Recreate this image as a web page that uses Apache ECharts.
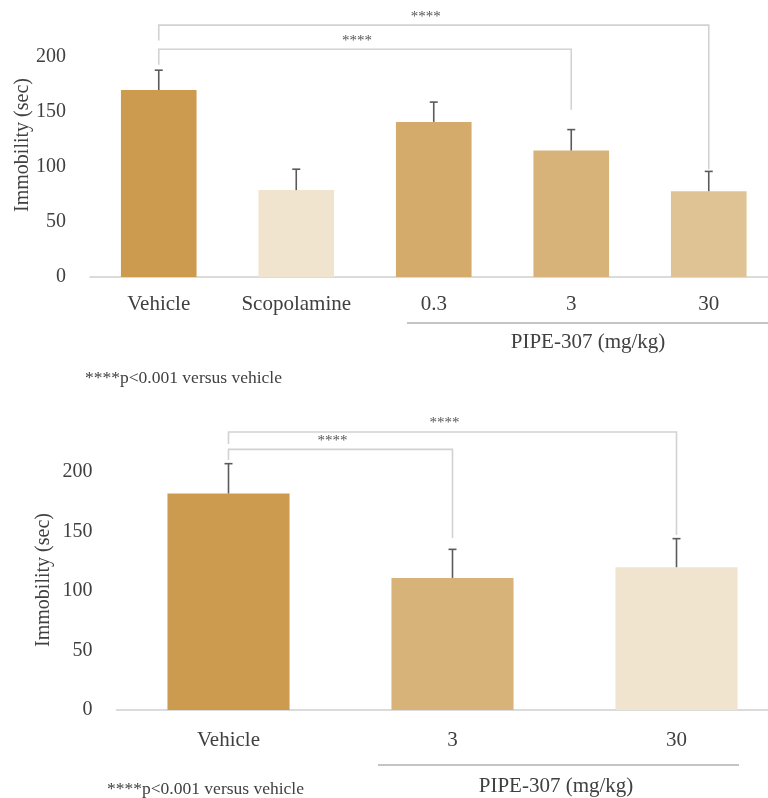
<!DOCTYPE html>
<html>
<head>
<meta charset="utf-8">
<script src="https://cdn.jsdelivr.net/npm/echarts@6/dist/echarts.min.js"></script>
<style>
html,body{margin:0;padding:0;background:#fff;}
#chart{width:768px;height:798px;}
</style>
</head>
<body>
<div id="chart"></div>
<script>
// ---- data ----
var topCategories = ['Vehicle', 'Scopolamine', '0.3', '3', '30'];
var topMeans = [170, 79, 141, 115, 78];
var topErrors = [18, 19, 18, 19, 18];
// brackets: [fromIndex, toIndex, levelValue, leftEndValue, rightEndValue]
var topBrackets = [[0, 3, 207, 193, 152], [0, 4, 229, 215, 98]];

var bottomCategories = ['Vehicle', '3', '30'];
var bottomMeans = [182, 111, 120];
var bottomErrors = [25, 24, 24];
var bottomBrackets = [[0, 1, 219, 210, 144.5], [0, 2, 233.6, 223.5, 147]];

var yTicks = [0, 50, 100, 150, 200];
var yTitle = 'Immobility (sec)';
var groupLabel = 'PIPE-307 (mg/kg)';
var footnote = '****p<0.001 versus vehicle';
var starLabel = '****';

// ---- styles ----
var topColors = ['#CC9B4F', '#F1E4CE', '#D5AB6C', '#D8B379', '#E0C394'];
var bottomColors = ['#CC9B4F', '#D8B379', '#F1E4CE'];
var FONT = '"Liberation Serif", "Times New Roman", serif';
var TXT = '#404040';

var chart = echarts.init(document.getElementById('chart'));

function barData(vals, colors) {
  return vals.map(function (v, i) { return { value: v, itemStyle: { color: colors[i] } }; });
}
function errData(means, errs) {
  return means.map(function (m, i) { return [i, m, errs[i]]; });
}
function renderErr(params, api) {
  var x = api.value(0), m = api.value(1), e = api.value(2);
  var p0 = api.coord([x, m]);
  var p1 = api.coord([x, m + e]);
  var st = { stroke: '#5a5a5a', lineWidth: 1.6 };
  return {
    type: 'group',
    children: [
      { type: 'line', shape: { x1: p0[0], y1: p0[1], x2: p1[0], y2: p1[1] }, style: st },
      { type: 'line', shape: { x1: p1[0] - 4, y1: p1[1], x2: p1[0] + 4, y2: p1[1] }, style: st }
    ]
  };
}
function renderBracket(params, api) {
  var a = api.value(0), b = api.value(1), lv = api.value(2), le = api.value(3), re = api.value(4);
  var pA = api.coord([a, lv]), pB = api.coord([b, lv]);
  var pAe = api.coord([a, le]), pBe = api.coord([b, re]);
  return {
    type: 'group',
    children: [
      { type: 'polyline', shape: { points: [pAe, pA, pB, pBe] },
        style: { stroke: '#d2d2d2', lineWidth: 1.6, fill: null } },
      { type: 'text', style: { x: (pA[0] + pB[0]) / 2 - 8, y: pA[1] - 1, text: starLabel,
        fill: '#555', font: '15px ' + FONT, textAlign: 'center', textVerticalAlign: 'bottom' } }
    ]
  };
}

function yAxis(gridIndex, gap, pad) {
  return {
    type: 'value', gridIndex: gridIndex, min: 0, max: 200, interval: 50,
    axisLine: { show: false }, axisTick: { show: false }, splitLine: { show: false },
    axisLabel: { color: TXT, fontFamily: FONT, fontSize: 20, margin: 24 },
    name: yTitle, nameLocation: 'middle', nameGap: gap, nameRotate: 90, nameMoveOverlap: false,
    nameTextStyle: { color: TXT, fontFamily: FONT, fontSize: 20, padding: pad }
  };
}
function xAxis(gridIndex, cats, margin) {
  return {
    type: 'category', gridIndex: gridIndex, data: cats,
    axisLine: { lineStyle: { color: '#d0d0d0', width: 1.6 } },
    axisTick: { show: false },
    axisLabel: { color: TXT, fontFamily: FONT, fontSize: 21, margin: margin, interval: 0 }
  };
}

var option = {
  animation: false,
  backgroundColor: '#fff',
  grid: [
    { left: 90, top: 57, width: 687.5, height: 220, outerBoundsMode: 'none', containLabel: false },
    { left: 116.5, top: 472, width: 672, height: 238, outerBoundsMode: 'none', containLabel: false }
  ],
  xAxis: [xAxis(0, topCategories, 17), xAxis(1, bottomCategories, 20)],
  yAxis: [yAxis(0, 57, [0, 0, 0, 44]), yAxis(1, 63, [0, 0, 0, 22])],
  series: [
    { type: 'bar', xAxisIndex: 0, yAxisIndex: 0, barWidth: '55%', data: barData(topMeans, topColors) },
    { type: 'custom', xAxisIndex: 0, yAxisIndex: 0, renderItem: renderErr, data: errData(topMeans, topErrors), z: 5 },
    { type: 'custom', xAxisIndex: 0, yAxisIndex: 0, renderItem: renderBracket, data: topBrackets, clip: false, z: 6 },
    { type: 'bar', xAxisIndex: 1, yAxisIndex: 1, barWidth: '54.5%', data: barData(bottomMeans, bottomColors) },
    { type: 'custom', xAxisIndex: 1, yAxisIndex: 1, renderItem: renderErr, data: errData(bottomMeans, bottomErrors), z: 5 },
    { type: 'custom', xAxisIndex: 1, yAxisIndex: 1, renderItem: renderBracket, data: bottomBrackets, clip: false, z: 6 }
  ],
  graphic: [
    { type: 'line', shape: { x1: 407, y1: 323, x2: 768, y2: 323 }, style: { stroke: '#c4c4c4', lineWidth: 2.2 } },
    { type: 'text', x: 588, y: 342, style: { text: groupLabel, fill: TXT, font: '21px ' + FONT, textAlign: 'center', textVerticalAlign: 'middle' } },
    { type: 'text', x: 85, y: 378, style: { text: footnote, fill: TXT, font: '17.5px ' + FONT, textAlign: 'left', textVerticalAlign: 'middle' } },
    { type: 'line', shape: { x1: 378, y1: 765, x2: 739, y2: 765 }, style: { stroke: '#c4c4c4', lineWidth: 2.2 } },
    { type: 'text', x: 556, y: 786, style: { text: groupLabel, fill: TXT, font: '21px ' + FONT, textAlign: 'center', textVerticalAlign: 'middle' } },
    { type: 'text', x: 107, y: 789, style: { text: footnote, fill: TXT, font: '17.5px ' + FONT, textAlign: 'left', textVerticalAlign: 'middle' } }
  ]
};
chart.setOption(option);
</script>
</body>
</html>
